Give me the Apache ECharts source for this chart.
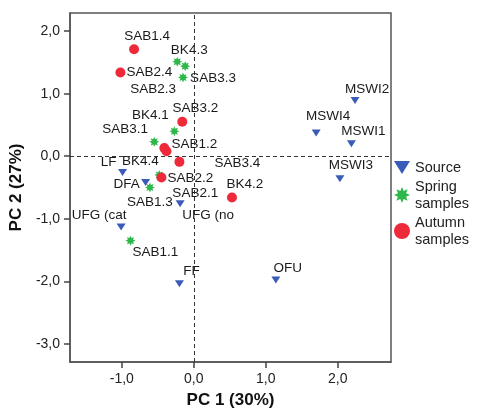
<!DOCTYPE html>
<html>
<head>
<meta charset="utf-8">
<script src="https://cdn.jsdelivr.net/npm/echarts@6/dist/echarts.min.js"></script>
<style>html,body{margin:0;padding:0;background:#fff}#c{width:478px;height:414px}</style>
</head>
<body>
<div id="c"></div>
<script>
// ---- data ----
const sourceNames = ['MSWI2','MSWI4','MSWI1','MSWI3','LF','DFA','UFG (no','UFG (cat','FF','OFU'];
const sourceX = [2.24, 1.70, 2.19, 2.03, -0.99, -0.67, -0.19, -1.01, -0.20, 1.14];
const sourceY = [0.89, 0.37, 0.20, -0.36, -0.26, -0.42, -0.76, -1.13, -2.04, -1.98];

const springNames = ['BK4.3','SAB2.3','SAB3.3','BK4.1','SAB3.1','SAB2.1','SAB1.3','SAB1.1'];
const springX = [-0.23, -0.12, -0.15, -0.27, -0.55, -0.48, -0.61, -0.88];
const springY = [1.51, 1.44, 1.26, 0.40, 0.23, -0.30, -0.50, -1.35];

const autumnNames = ['SAB1.4','SAB2.4','SAB3.2','SAB1.2','BK4.4','SAB3.4','SAB2.2','BK4.2'];
const autumnX = [-0.83, -1.02, -0.16, -0.41, -0.38, -0.20, -0.45, 0.53];
const autumnY = [1.71, 1.34, 0.55, 0.13, 0.08, -0.09, -0.34, -0.66];

const xTicks = [-1, 0, 1, 2];
const yTicks = [-3, -2, -1, 0, 1, 2];

const seriesNames = ['Source', 'Spring samples', 'Autumn samples'];
const xTitle = 'PC 1 (30%)';
const yTitle = 'PC 2 (27%)';

// ---- label layout (pixel offsets of label centre from point) ----
const labelOffsets = {
  'MSWI2':[12,-11],'MSWI4':[12,-17],'MSWI1':[12,-12],'MSWI3':[11,-13],
  'LF':[-14,-10],'DFA':[-19,2],'UFG (no':[28,12],'UFG (cat':[-22,-12],
  'FF':[12,-13],'OFU':[12,-12],
  'BK4.3':[12,-12],'SAB2.3':[-32,23],'SAB3.3':[30,1],'BK4.1':[-24,-16],
  'SAB3.1':[-29,-13],'SAB2.1':[36,18],'SAB1.3':[0,15],'SAB1.1':[25,12],
  'SAB1.4':[13,-13],'SAB2.4':[29,0],'SAB3.2':[13,-14],'SAB1.2':[30,-4],
  'BK4.4':[-26,10],'SAB3.4':[58,1],'SAB2.2':[29,1],'BK4.2':[13,-13]
};

const FONT = "'Liberation Sans', Arial, sans-serif";

function starPath() {
  let d = '';
  for (let i = 0; i < 16; i++) {
    const a = i * Math.PI / 8 - Math.PI / 2;
    const r = (i % 2) ? 5.5 : 10;
    const x = (10 + r * Math.cos(a)).toFixed(2);
    const y = (10 + r * Math.sin(a)).toFixed(2);
    d += (i === 0 ? 'M' : 'L') + x + ',' + y;
  }
  return 'path://' + d + 'Z';
}
const triPath = 'path://M0,0L10,0L5,8Z';

function build(names, xs, ys) {
  return names.map((n, i) => ({
    name: n,
    value: [xs[i], ys[i]],
    label: { offset: labelOffsets[n] || [0, 0] }
  }));
}

const labelCfg = {
  show: true, position: 'inside', formatter: '{b}',
  color: '#1a1a1a', fontSize: 13.5, fontFamily: FONT, align: 'center', verticalAlign: 'middle'
};
const fmt = v => v.toFixed(1).replace('.', ',');

const chart = echarts.init(document.getElementById('c'), null, { renderer: 'canvas' });
chart.setOption({
  animation: false,
  backgroundColor: '#fff',
  grid: { left: 68, top: 13, right: 87, bottom: 51, show: true, borderColor: '#555', borderWidth: 1.5, backgroundColor: 'transparent' },
  xAxis: {
    type: 'value', min: -1.72, max: 2.74,
    name: xTitle, nameLocation: 'middle', nameGap: 30,
    nameTextStyle: { fontSize: 17, fontWeight: 'bold', fontFamily: FONT, color: '#111' },
    axisLine: { show: true, onZero: false, lineStyle: { color: '#555', width: 1.5 } },
    axisTick: { show: true, length: 6, customValues: xTicks, lineStyle: { color: '#444', width: 1.5 } },
    axisLabel: { customValues: xTicks, formatter: fmt, margin: 10, fontSize: 14, fontFamily: FONT, color: '#222' },
    splitLine: { show: false }
  },
  yAxis: {
    type: 'value', min: -3.29, max: 2.29,
    name: yTitle, nameLocation: 'middle', nameGap: 35, nameRotate: 90,
    nameTextStyle: { fontSize: 17, fontWeight: 'bold', fontFamily: FONT, color: '#111' },
    axisLine: { show: true, onZero: false, lineStyle: { color: '#555', width: 1.5 } },
    axisTick: { show: true, length: 6, customValues: yTicks, lineStyle: { color: '#444', width: 1.5 } },
    axisLabel: { customValues: yTicks, formatter: fmt, margin: 10, fontSize: 14, fontFamily: FONT, color: '#222' },
    splitLine: { show: false }
  },
  legend: {
    orient: 'vertical', left: 389, top: 154,
    itemWidth: 16, itemHeight: 16, itemGap: 2,
    formatter: n => n.replace(' ', '\n'),
    textStyle: { fontSize: 14.5, fontFamily: FONT, color: '#222', lineHeight: 17 },
    data: seriesNames
  },
  series: [
    {
      name: seriesNames[0], type: 'scatter', symbol: triPath, symbolSize: [9, 7],
      itemStyle: { color: '#3a5cb8', opacity: 1 },
      label: labelCfg,
      data: build(sourceNames, sourceX, sourceY),
      z: 3,
      markLine: {
        silent: true, symbol: 'none', label: { show: false },
        lineStyle: { type: [4, 3], color: '#333', width: 1 },
        data: [{ xAxis: 0 }, { yAxis: 0 }]
      }
    },
    {
      name: seriesNames[1], type: 'scatter', symbol: starPath(), symbolSize: 10,
      itemStyle: { color: '#2eb84a', opacity: 1 },
      label: labelCfg,
      data: build(springNames, springX, springY),
      z: 2
    },
    {
      name: seriesNames[2], type: 'scatter', symbol: 'circle', symbolSize: 10,
      itemStyle: { color: '#ee2a3a', opacity: 1 },
      label: labelCfg,
      data: build(autumnNames, autumnX, autumnY),
      z: 2
    }
  ]
});
</script>
</body>
</html>
